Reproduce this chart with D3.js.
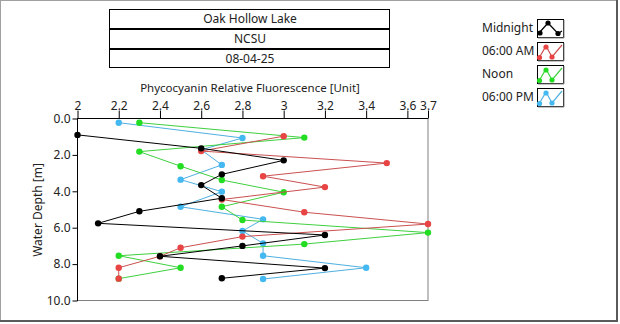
<!DOCTYPE html>
<html><head><meta charset="utf-8">
<script src="https://cdn.jsdelivr.net/npm/d3@7"></script>
<style>
html,body{margin:0;padding:0;background:#fff;}
svg{display:block;font-family:"Noto Sans","Open Sans",sans-serif;}
</style></head>
<body><svg id="c" width="620" height="324"></svg>
<script>
const titleLines = ["Oak Hollow Lake", "NCSU", "08-04-25"];
const xLabel = "Phycocyanin Relative Fluorescence [Unit]";
const yLabel = "Water Depth [m]";
const xTicks = [2, 2.2, 2.4, 2.6, 2.8, 3, 3.2, 3.4, 3.6, 3.7];
const yTicks = [0, 2, 4, 6, 8, 10];
const seriesNames = ["Midnight", "06:00 AM", "Noon", "06:00 PM"];

const midnightDepth = [0.9, 1.64, 2.3, 3.07, 3.66, 4.38, 5.1, 5.76, 6.4, 7.0, 7.57, 8.22, 8.78];
const midnightValue = [2.0, 2.6, 3.0, 2.7, 2.6, 2.7, 2.3, 2.1, 3.2, 2.8, 2.4, 3.2, 2.7];
const amDepth = [0.97, 1.79, 2.45, 3.17, 3.77, 4.45, 5.15, 5.8, 6.49, 7.1, 7.57, 8.2, 8.8];
const amValue = [3.0, 2.6, 3.5, 2.9, 3.2, 2.7, 3.1, 3.7, 2.8, 2.5, 2.4, 2.2, 2.2];
const noonDepth = [0.23, 1.05, 1.82, 2.62, 3.38, 4.05, 4.85, 5.58, 6.27, 6.9, 7.54, 8.2, 8.8];
const noonValue = [2.3, 3.1, 2.3, 2.5, 2.7, 3.0, 2.7, 2.8, 3.7, 3.1, 2.2, 2.5, 2.2];
const pmDepth = [0.23, 1.07, 1.72, 2.55, 3.36, 4.02, 4.85, 5.54, 6.18, 6.86, 7.54, 8.2, 8.82];
const pmValue = [2.2, 2.8, 2.6, 2.7, 2.5, 2.7, 2.5, 2.9, 2.8, 2.9, 2.9, 3.4, 2.9];

const lineColors = ["#000000", "#cc5050", "#3fd03f", "#4fb0e0"];
const dotColors = ["#000000", "#e84444", "#22dd22", "#44b8f0"];

const series = [
  {name: seriesNames[0], d: midnightDepth, v: midnightValue, i: 0},
  {name: seriesNames[1], d: amDepth, v: amValue, i: 1},
  {name: seriesNames[2], d: noonDepth, v: noonValue, i: 2},
  {name: seriesNames[3], d: pmDepth, v: pmValue, i: 3}
];

const svg = d3.select("#c");
const FS = 12;

// outer frame
svg.append("rect").attr("x",0.5).attr("y",0.5).attr("width",617).attr("height",321)
  .attr("fill","none").attr("stroke","#a0a0a0");
svg.append("line").attr("x1",617).attr("x2",617).attr("y1",0).attr("y2",322).attr("stroke","#5a5a5a").attr("stroke-width",2);
svg.append("line").attr("x1",0).attr("x2",618).attr("y1",321).attr("y2",321).attr("stroke","#5a5a5a").attr("stroke-width",2);

// title boxes
const tb = [[9,28],[29,48],[49,67]];
titleLines.forEach((t,k)=>{
  svg.append("rect").attr("x",109.5).attr("y",tb[k][0]+0.5).attr("width",280).attr("height",tb[k][1]-tb[k][0])
    .attr("fill","#fff").attr("stroke","#000");
  svg.append("text").attr("x",250).attr("y",(tb[k][0]+tb[k][1])/2+4.5).attr("text-anchor","middle")
    .attr("font-size",FS).attr("fill","#222").text(t);
});

const x = d3.scaleLinear().domain([2,3.7]).range([77.5,428]);
const y = d3.scaleLinear().domain([0,10]).range([118.5,300.5]);

// plot area
svg.append("rect").attr("x",77.5).attr("y",118.5).attr("width",350.5).attr("height",182).attr("fill","#fff");

const xAxis = d3.axisTop(x).tickValues(xTicks).tickSize(8).tickPadding(1)
  .tickFormat(d=>d3.format("~g")(d));
const gx = svg.append("g").attr("transform","translate(0,118.5)").call(xAxis);
gx.select(".domain").remove();
gx.selectAll("text").attr("font-size",FS).attr("fill","#222").attr("font-family","Noto Sans");

const yAxis = d3.axisLeft(y).tickValues(yTicks).tickSize(5).tickPadding(2)
  .tickFormat(d3.format(".1f"));
const gy = svg.append("g").attr("transform","translate(77.5,0)").call(yAxis);
gy.select(".domain").remove();
gy.selectAll("text").attr("font-size",FS).attr("fill","#222").attr("font-family","Noto Sans");

// borders
svg.append("line").attr("x1",428).attr("x2",428).attr("y1",118.5).attr("y2",301).attr("stroke","#808080");
svg.append("line").attr("x1",77.5).attr("x2",428).attr("y1",300.5).attr("y2",300.5).attr("stroke","#808080");
svg.append("line").attr("x1",77.5).attr("x2",77.5).attr("y1",118).attr("y2",301).attr("stroke","#000");
svg.append("line").attr("x1",77.5).attr("x2",428).attr("y1",118.5).attr("y2",118.5).attr("stroke","#000");

// labels
svg.append("text").attr("x",250).attr("y",92).attr("text-anchor","middle").attr("font-size",11.5)
  .attr("fill","#222").text(xLabel);
svg.append("text").attr("transform","translate(42,210) rotate(-90)").attr("text-anchor","middle")
  .attr("font-size",FS).attr("fill","#222").text(yLabel);

// series
const drawOrder = [3,2,1,0];
const line = d3.line().x(p=>x(p[0])).y(p=>y(p[1]));
drawOrder.forEach(k=>{
  const s = series[k];
  const pts = s.v.map((v,j)=>[v, s.d[j]]);
  svg.append("path").attr("d",line(pts)).attr("fill","none").attr("stroke",lineColors[k]).attr("stroke-width",1);
  svg.append("g").selectAll("circle").data(pts).join("circle")
    .attr("cx",p=>x(p[0])).attr("cy",p=>y(p[1])).attr("r",3.2).attr("fill",dotColors[k]);
});

// legend
const lg = svg.append("g");
const rowY = [19, 42, 65, 88];
series.forEach((s,k)=>{
  const by = rowY[k];
  lg.append("text").attr("x",482).attr("y",by+13).attr("font-size",FS).attr("fill","#222").text(s.name);
  lg.append("rect").attr("x",537.5).attr("y",by+0.5).attr("width",26).attr("height",18)
    .attr("fill","#fff").attr("stroke","#000");
  lg.append("line").attr("x1",564).attr("x2",564).attr("y1",by+1).attr("y2",by+19).attr("stroke","#888");
  lg.append("line").attr("x1",538).attr("x2",564).attr("y1",by+19).attr("y2",by+19).attr("stroke","#888");
  let pts, dots;
  if (k===0) { dots=[[540,by+14],[548,by+4],[558,by+14.5]]; pts=[[539,by+14],[548,by+4],[558,by+14.5],[562,by+12]]; }
  else { pts=[[539,by+16],[546,by+4],[552,by+15],[562,by+3]]; dots=[[539.5,by+15.5],[546,by+5],[552,by+15]]; }
  lg.append("path").attr("d",d3.line()(pts)).attr("fill","none").attr("stroke",lineColors[k]).attr("stroke-width",1.2);
  dots.forEach(p=>lg.append("circle").attr("cx",p[0]).attr("cy",p[1]).attr("r",2.6).attr("fill",dotColors[k]));
});
</script></body></html>
